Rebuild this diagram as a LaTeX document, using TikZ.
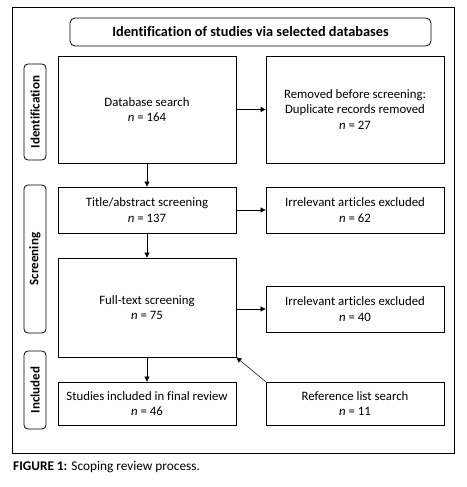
\documentclass[tikz,border=0pt]{standalone}
\usepackage{fontspec}
\setmainfont{Carlito}[Ligatures=CommonOff]
\usepackage{tikz}
\usetikzlibrary{arrows.meta,positioning}
\tikzset{
  stage/.style={draw, line width=0.8pt, minimum width=178pt, align=center, font=\fontsize{12.8}{15.5}\selectfont, inner sep=0pt},
  phase/.style={draw, line width=0.8pt, rounded corners=4pt, minimum width=22pt, inner sep=0pt},
  phasetext/.style={rotate=90, font=\fontsize{13}{15}\selectfont\bfseries},
  flow/.style={-{Triangle[length=5pt,width=5pt]}, line width=0.7pt},
}
\begin{document}
\begin{tikzpicture}[x=1pt,y=-1pt]
  \useasboundingbox (0,0) rectangle (466,487);
  \draw[line width=0.8pt] (12,7) rectangle (454,453);
  \node[draw, line width=0.8pt, rounded corners=5pt, minimum width=361pt, minimum height=28pt, font=\fontsize{14.3}{16}\selectfont\bfseries] (title) at (250.5,32) {Identification of studies via selected databases};
  % phase labels on the left
  \node[phase, minimum height=96pt] (pid) at (35,112) {};
  \node[phasetext] at (pid) {Identification};
  \node[phase, minimum height=148pt] (pscr) at (35,259) {};
  \node[phasetext] at (pscr) {Screening};
  \node[phase, minimum height=78pt] (pinc) at (35,390) {};
  \node[phasetext] at (pinc) {Included};
  % main column
  \node[stage, minimum height=107pt] (db) at (147,109.5) {Database search\\\textit{n} = 164};
  \node[stage, minimum height=46pt] (tas) at (147,210) {Title/abstract screening\\\textit{n} = 137};
  \node[stage, minimum height=99pt] (fts) at (147,307.5) {Full-text screening\\\textit{n} = 75};
  \node[stage, minimum height=43pt] (inc) at (147,403.5) {Studies included in final review\\\textit{n} = 46};
  % side column
  \node[stage, minimum height=107pt] (rem) at (355,109.5) {Removed before screening:\\Duplicate records removed\\\textit{n} = 27};
  \node[stage, minimum height=46pt] (irr1) at (355,210) {Irrelevant articles excluded\\\textit{n} = 62};
  \node[stage, minimum height=46pt] (irr2) at (355,309) {Irrelevant articles excluded\\\textit{n} = 40};
  \node[stage, minimum height=43pt] (ref) at (355,403.5) {Reference list search\\\textit{n} = 11};
  \draw[flow] (db) -- (rem);
  \draw[flow] (db) -- (tas);
  \draw[flow] (tas) -- (irr1);
  \draw[flow] (tas) -- (fts);
  \draw[flow] (fts.east |- irr2) -- (irr2);
  \draw[flow] (fts) -- (inc);
  \draw[flow, line width=0.5pt] (ref.north west) -- (fts.south east);
  \node[anchor=west, font=\fontsize{13.3}{15}\selectfont, inner sep=0pt] (cap) at (13,467) {\textbf{FIGURE 1:} Scoping review process.};
\end{tikzpicture}
\end{document}
